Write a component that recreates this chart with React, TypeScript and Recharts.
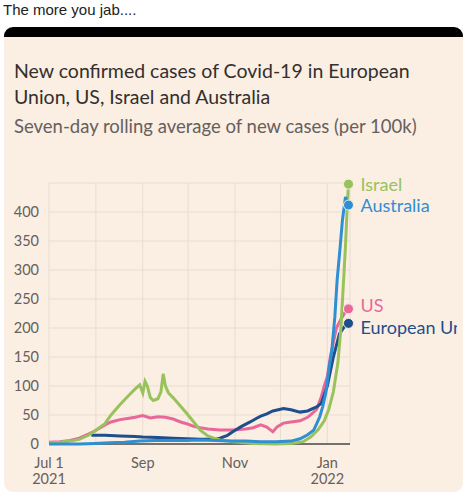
import React from 'react';
import { LineChart, Line, XAxis, YAxis, CartesianGrid, ReferenceLine } from 'recharts';

// days counted from 1 July 2021
const monthStarts = [0, 31, 62, 92, 123, 153, 184];
const monthLabels = ['Jul 1\n2021', '', 'Sep', '', 'Nov', '', 'Jan\n2022'];
const yTicks = [0, 50, 100, 150, 200, 250, 300, 350, 400];

const usDays = [0, 7, 14, 20, 26, 30, 37, 41, 47, 52, 57, 62, 67, 72, 77, 82, 87, 91, 95, 100, 105, 109, 113, 122, 130, 135, 140, 144, 148, 151, 155, 160, 166, 171, 175, 177, 180, 182, 184, 186, 188, 190, 193, 196, 198];
const usCases = [3, 4, 6, 10, 17, 22, 33, 38, 42, 44, 46, 49, 45, 47, 46, 43, 38, 35, 31, 28, 26, 25, 24, 24, 26, 28, 33, 29, 21, 30, 36, 38, 40, 46, 55, 60, 81, 100, 116, 150, 175, 200, 215, 228, 233];

const euDays = [28, 37, 47, 57, 62, 72, 82, 91, 100, 109, 113, 118, 122, 127, 133, 137, 140, 144, 148, 153, 155, 160, 166, 171, 175, 177, 180, 184, 188, 192, 196, 198];
const euCases = [15, 15, 14, 13, 12, 11, 10, 9, 8, 8, 10, 15, 22, 30, 38, 44, 48, 52, 57, 60, 61, 59, 55, 57, 62, 64, 70, 100, 150, 190, 205, 208];

const israelDays = [0, 7, 14, 20, 26, 30, 37, 41, 47, 52, 57, 60, 62, 63.5, 65, 67, 69, 72, 74, 75.5, 77, 79, 82, 87, 91, 95, 100, 105, 109, 113, 122, 135, 150, 160, 168, 173, 178, 182, 185, 188, 191, 193, 194.5, 196, 197, 198];
const israelCases = [2, 3, 5, 8, 15, 22, 35, 50, 68, 82, 95, 102, 88, 108, 100, 80, 75, 78, 90, 121, 100, 88, 80, 65, 53, 40, 24, 14, 10, 7, 4, 1, 0, 1, 4, 12, 25, 40, 60, 90, 140, 200, 270, 340, 400, 448];

const australiaDays = [0, 20, 30, 40, 50, 60, 70, 80, 90, 100, 110, 120, 130, 140, 150, 160, 166, 171, 175, 177, 179, 181, 183, 185, 187, 189, 190.5, 192.5, 194, 196, 198];
const australiaCases = [0, 0, 1, 2, 3, 5, 6, 6, 6, 7, 6, 5, 5, 4, 4, 5, 9, 16, 24, 35, 47, 65, 88, 128, 162, 220, 283, 340, 386, 426, 412];

const toRows = (days: number[], values: number[]) => days.map((d, i) => ({ day: d, cases: values[i] }));

const series = [
  { name: 'US', color: '#e8689a', rows: toRows(usDays, usCases), dy: -4 },
  { name: 'European Union', color: '#1d4f8e', rows: toRows(euDays, euCases), dy: 4 },
  { name: 'Israel', color: '#98c25c', rows: toRows(israelDays, israelCases), dy: 0 },
  { name: 'Australia', color: '#2f8fd3', rows: toRows(australiaDays, australiaCases), dy: 0 },
];

const BG = '#fbeee3';
const TEXT_GREY = '#66605c';

const MonthTick = ({ x, y, payload }: any) => {
  const i = monthStarts.indexOf(payload.value);
  const label = i >= 0 ? monthLabels[i] : '';
  if (!label) return <g />;
  return (
    <text x={x} y={y} textAnchor="middle" fill={TEXT_GREY} fontSize={14.5}>
      {label.split('\n').map((line, k) => (
        <tspan key={k} x={x} dy={16}>{line}</tspan>
      ))}
    </text>
  );
};

const endDot = (s: typeof series[number]) => (props: any) => {
  const { cx, cy, index } = props;
  if (index !== s.rows.length - 1) return <g key={`${s.name}-${index}`} />;
  return (
    <g key={`${s.name}-end`}>
      <circle cx={cx} cy={cy} r={5} fill={s.color} stroke={BG} strokeWidth={1} />
      <text x={cx + 12} y={cy + s.dy} dominantBaseline="central" fill={s.color} fontSize={18}>
        {s.name}
      </text>
    </g>
  );
};

export default function App() {
  return (
    <div style={{ position: 'relative', width: 465, height: 500, overflow: 'hidden', fontFamily: 'Lato, sans-serif' }}>
      <style>{'body{margin:0}'}</style>
      <div style={{ position: 'absolute', left: 3, top: 1, fontSize: 15, fontFamily: '"Liberation Sans", Arial, sans-serif', color: '#222' }}>
        The more you jab....
      </div>
      <div
        style={{
          position: 'absolute', left: 4, top: 27, width: 459, height: 465, background: BG,
          borderTop: '10px solid #000', borderRadius: 9, boxSizing: 'border-box',
        }}
      />
      <div style={{ position: 'absolute', left: 14, top: 58, fontSize: 19.5, lineHeight: '26px', color: '#33302e' }}>
        New confirmed cases of Covid-19 in European<br />Union, US, Israel and Australia
      </div>
      <div style={{ position: 'absolute', left: 14, top: 115, fontSize: 18.5, color: TEXT_GREY }}>
        Seven-day rolling average of new cases (per 100k)
      </div>
      <div style={{ position: 'absolute', left: 0, top: 0 }}>
        <LineChart width={457} height={500} margin={{ top: 183, right: 107, bottom: 10, left: 9 }}>
          <CartesianGrid stroke="#e9dcd1" strokeWidth={1} />
          <XAxis
            type="number"
            dataKey="day"
            domain={[0, 199]}
            ticks={monthStarts}
            tick={<MonthTick />}
            axisLine={false}
            tickLine={false}
            height={46}
            interval={0}
          />
          <YAxis
            type="number"
            domain={[0, 450]}
            ticks={yTicks}
            width={40}
            axisLine={false}
            tickLine={false}
            tick={{ fill: TEXT_GREY, fontSize: 14.5 }}
            tickMargin={4}
          />
          <ReferenceLine y={0} stroke="#4d4845" strokeWidth={1.5} />
          {series.map((s) => (
            <Line
              key={s.name}
              data={s.rows}
              dataKey="cases"
              type="linear"
              stroke={s.color}
              strokeWidth={3}
              dot={endDot(s)}
              activeDot={false}
              isAnimationActive={false}
            />
          ))}
        </LineChart>
      </div>
    </div>
  );
}
